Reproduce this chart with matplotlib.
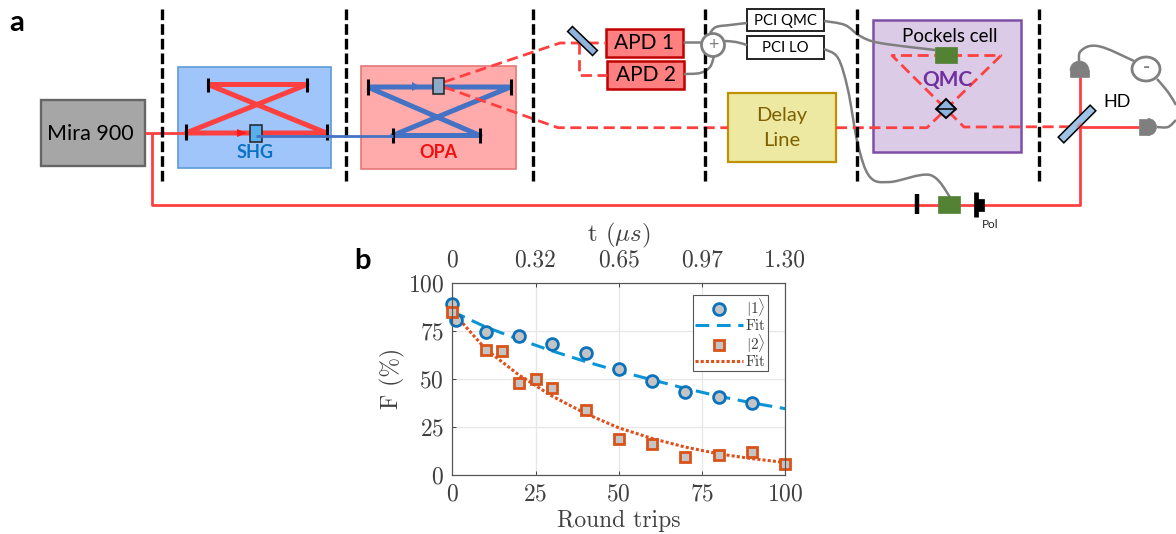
import numpy as np
import matplotlib
matplotlib.use("Agg")
import matplotlib.pyplot as plt
from matplotlib.patches import Rectangle, Circle, Ellipse, Polygon, PathPatch, Wedge
from matplotlib.path import Path

plt.rcParams['mathtext.fontset'] = 'cm'
plt.rcParams['axes.unicode_minus'] = False
plt.rcParams['axes.formatter.use_mathtext'] = True

# data for panel b
trips_1 = [0, 1, 10, 20, 30, 40, 50, 60, 70, 80, 90]
fid_1 = [89, 80.5, 74.5, 72.5, 68, 63.5, 55, 49, 43, 40.5, 37.5]
trips_2 = [0, 10, 15, 20, 25, 30, 40, 50, 60, 70, 80, 90, 100]
fid_2 = [85, 65, 64.5, 48, 50, 45, 34, 18.5, 16, 9.5, 10.5, 12, 5.5]
fit_x = [0, 10, 20, 30, 40, 50, 60, 70, 80, 90, 100]
fit_1 = [85, 77, 70.5, 64.5, 59, 54, 49.5, 45, 41, 37.5, 34.5]
fit_2 = [85, 65.5, 52, 41, 32, 24.5, 19, 14.5, 11, 8.5, 6.5]
x_ticks = [0, 25, 50, 75, 100]
y_ticks = [0, 25, 50, 75, 100]
top_labels = ['0', '0.32', '0.65', '0.97', '1.30']

W, H = 1176, 534
SANS = 'Lato'
RED = '#ff4040'
GRAY = '#7f7f7f'

fig = plt.figure(figsize=(W / 100, H / 100), dpi=100)

# diagram is drawn on a full-figure axes in pixel units
d = fig.add_axes([0, 0, 1, 1])
d.set_xlim(0, W)
d.set_ylim(H, 0)
d.axis('off')


def box(x0, y0, x1, y1, fc, ec, lw=1.5, z=1):
    d.add_patch(Rectangle((x0, y0), x1 - x0, y1 - y0, fc=fc, ec=ec, lw=lw, zorder=z))


def line(xs, ys, color=RED, lw=2, ls='-', z=3):
    d.plot(xs, ys, color=color, lw=lw, ls=ls, zorder=z, solid_capstyle='butt')


def dashed(xs, ys):
    d.plot(xs, ys, color=RED, lw=2, ls=(0, (4, 2)), zorder=3)


def cable(pts, z=2):
    # smooth curve through the points
    p = np.array(pts, dtype=float)
    q = np.vstack([p[0], p, p[-1]])
    verts = [tuple(p[0])]
    codes = [Path.MOVETO]
    for i in range(1, len(q) - 2):
        c1 = q[i] + (q[i + 1] - q[i - 1]) / 6
        c2 = q[i + 1] - (q[i + 2] - q[i]) / 6
        verts += [tuple(c1), tuple(c2), tuple(q[i + 1])]
        codes += [Path.CURVE4] * 3
    d.add_patch(PathPatch(Path(verts, codes), fc='none', ec=GRAY, lw=1.8, zorder=z))


def mirror(x, y0, y1, lw=2.2):
    line([x, x], [y0, y1], color='black', lw=lw, z=5)


def tilted(p0, p1, width, fc, z=6, alpha=1.0):
    p0, p1 = np.array(p0, float), np.array(p1, float)
    u = (p1 - p0) / np.linalg.norm(p1 - p0)
    n = np.array([-u[1], u[0]]) * width / 2
    d.add_patch(Polygon([p0 + n, p1 + n, p1 - n, p0 - n], fc=fc, ec='black', lw=1.1, zorder=z, alpha=alpha))


def label(x, y, s, size=14, color='black', weight='normal'):
    d.text(x, y, s, fontsize=size, color=color, fontweight=weight, family=SANS,
           ha='center', va='center', zorder=8)


# panel letters
label(17, 23, 'a', 21, weight='bold')
label(362, 261, 'b', 21, weight='bold')

# separators
for x in [162, 346, 532.5, 705, 857, 1039]:
    d.plot([x, x], [9, 183], color='black', lw=2.4, ls=(0, (3.2, 1.2)), zorder=4)

# laser
box(41, 100, 145, 166, '#a6a6a6', '#666666', 1.7)
label(90, 134, 'Mira 900', 15.5)

# main beam
line([145, 186], [133, 133])
line([152, 152, 1080, 1080], [133, 204.5, 204.5, 77], lw=2)

# SHG
box(178, 67, 331, 168, '#9fc5fb', '#5b9bd5', 1.2)
line([208, 307, 186, 326.5, 208], [84.5, 84.5, 133, 133, 84.5], lw=3.6)
mirror(208, 78, 92)
mirror(307, 78, 92)
mirror(186, 124, 140)
mirror(326.5, 124, 140)
d.add_patch(Polygon([[237, 129], [237, 137], [247, 133]], fc='#ff1a1a', ec='none', zorder=5))
box(250, 124.5, 262, 141.5, '#58b0ee', '#222222', 1.1, 6)
line([256, 392.5], [136, 136], color='#4472c4', lw=2, z=7)
label(255, 153, 'SHG', 13, '#0b72c4', 'bold')

# OPA
box(361, 66, 515.5, 169, '#ffabab', '#e57878', 1.2)
line([367.5, 510.5, 392.5, 480, 367.5], [87, 87, 135.5, 135.5, 87], color='#4472c4', lw=3.6)
mirror(367.5, 79, 95)
mirror(510.5, 79, 95)
mirror(392.5, 128, 143)
mirror(480, 128, 143)
d.add_patch(Polygon([[412, 82], [412, 91], [420, 86.5]], fc='#4472c4', ec='none', zorder=5))
box(433, 77.5, 444, 94, '#8ea9c9', '#222222', 1.1, 6)
label(438, 152, 'OPA', 13, '#f01010', 'bold')

# squeezed beams
dashed([444, 560, 606], [82, 43, 43])
dashed([444, 558, 728], [87, 127.7, 127.7])
dashed([579, 579, 607], [43, 75, 75])
tilted((570, 29), (595, 53), 7, '#8fb3dc')

# detectors
box(606, 29, 683, 57, '#ff8080', '#c00000', 1.8)
box(607, 61, 684, 89, '#ff8080', '#c00000', 1.8)
label(644.5, 43, 'APD 1', 15)
label(645.5, 75, 'APD 2', 15)
line([683, 702], [42, 42], color=GRAY, lw=1.8)
cable([(684, 74), (700, 73), (710, 67), (714, 56)])
d.add_patch(Circle((713, 45), 11.5, fc='white', ec=GRAY, lw=2, zorder=5))
label(713, 44.5, '+', 13, GRAY)
cable([(710, 33), (716, 27), (730, 25), (747, 23)])
cable([(725, 41), (736, 42), (747, 45)])
box(747, 9, 824, 31, 'white', '#222222', 1.4)
box(747, 36, 824, 59, 'white', '#222222', 1.4)
label(785.5, 21, 'PCI QMC', 10.7)
label(785.5, 47.5, 'PCI LO', 10.7)

# delay line
box(728, 93, 836, 162, '#ede9a3', '#bf9000', 1.6)
label(782, 116, 'Delay', 14.5, '#7f6000')
label(782, 140, 'Line', 14.5, '#7f6000')

# QMC
box(873, 20, 1021, 152, '#dccbe6', '#7f4fa8', 1.8)
dashed([836, 927, 1001, 892, 964, 1080], [127.7, 127.7, 55.5, 55.5, 127, 126.7])
line([1080, 1139], [126.7, 126.7], lw=2)
label(950, 37, 'Pockels cell', 13.5)
box(935, 47, 957, 63, '#548235', '#548235', 0.5, 5)
label(947, 80, 'QMC', 15, '#7030a0', 'bold')
d.add_patch(Polygon([[946, 99], [956, 109], [946, 118], [936, 109]], fc='#8fb4e0', ec='black', lw=1.4, zorder=6))
line([936, 956], [109, 109], color='black', lw=1.1, z=7)

# cables to the cavity and the LO modulator
cable([(824, 21), (845, 25), (860, 36), (880, 43), (935, 50)])
cable([(824, 49), (838, 58), (848, 90), (858, 145), (870, 177), (890, 182), (930, 175), (950, 197)])

# local oscillator optics
line([917, 917], [194, 214], color='black', lw=3.2, z=5)
box(938, 196, 960, 213, '#548235', '#548235', 0.5, 5)
line([976, 976], [192, 217], color='black', lw=3.4, z=5)
box(976, 199, 984, 211, 'black', 'black', 0.5, 5)
label(990, 224, 'Pol', 8.5, '#222222')

# homodyne
tilted((1061, 140), (1093, 108), 8, '#9dc3e6')
d.add_patch(Polygon([[1076, 126], [1080, 122], [1084, 126], [1080, 130]], fc=RED, ec='none', alpha=0.3, zorder=7))
label(1117, 102, 'HD', 13)
d.add_patch(Wedge((1079.5, 70.5), 9.5, 180, 360, fc=GRAY, ec=GRAY, lw=0.5, zorder=5))
box(1070, 70, 1089, 77, GRAY, GRAY, 0.5, 5)
d.add_patch(Wedge((1148, 127), 8.5, 270, 90, fc=GRAY, ec=GRAY, lw=0.5, zorder=5))
box(1139, 119, 1148, 135, GRAY, GRAY, 0.5, 5)
cable([(1079, 61), (1080, 52), (1090, 46), (1105, 48), (1134, 61)])
d.add_patch(Ellipse((1146, 69), 28, 24, fc='white', ec=GRAY, lw=2, zorder=5))
label(1146, 68, '-', 14, GRAY, 'bold')
cable([(1157, 79), (1168, 92), (1176, 105)])
cable([(1157, 127), (1168, 127), (1176, 120)])

# panel b, MATLAB style
INK = '#404040'
serif = {'family': 'cmr10', 'color': INK}
ax = fig.add_axes([452.3 / W, 1 - 475 / H, 333 / W, 192.3 / H])
ax.patch.set_alpha(0)
ax.plot(fit_x, fit_1, color='#0a96d6', lw=2.2, ls=(0, (4.5, 2.5)), label='Fit', zorder=3, clip_on=False)
ax.plot(fit_x, fit_2, color='#e0501c', lw=2.2, ls=(0, (1, 0.7)), label='Fit', zorder=3, clip_on=False)
c1, = ax.plot(trips_1, fid_1, 'o', ms=8.5, mfc='#c4c4c4', mec='#0b72bd', mew=2, clip_on=False, zorder=4)
c2, = ax.plot(trips_2, fid_2, 's', ms=6.5, mfc='#c4c4c4', mec='#d95319', mew=2, clip_on=False, zorder=5)
ax.set_xlim(0, 100)
ax.set_ylim(0, 100)
ax.set_xticks(x_ticks)
ax.set_yticks(y_ticks)
ax.grid(color='#e6e6e6', lw=0.9)
ax.set_axisbelow(True)
ax.tick_params(direction='in', length=3, width=0.7, color=INK, pad=6)
for t in ax.get_xticklabels() + ax.get_yticklabels():
    t.set_fontfamily('cmr10')
    t.set_fontsize(17)
    t.set_color(INK)
ax.set_xlabel('Round trips', fontsize=17, labelpad=3, **serif)
ax.set_ylabel('F (%)', fontsize=17, labelpad=2, **serif)
for s in ax.spines.values():
    s.set_color('#555555')
    s.set_linewidth(0.8)

top = ax.twiny()
top.set_xlim(0, 100)
top.set_xticks(x_ticks)
top.set_xticklabels(top_labels, fontsize=17, fontfamily='cmr10', color=INK)
top.tick_params(direction='in', length=3, width=0.7, color=INK, pad=8)
top.set_xlabel(r't ($\mu s$)', fontsize=18, labelpad=6, **serif)
for s in top.spines.values():
    s.set_color('#555555')
    s.set_linewidth(0.8)

handles = [c1, ax.lines[0], c2, ax.lines[1]]
names = [r'$|1\rangle$', 'Fit', r'$|2\rangle$', 'Fit']
leg = top.legend(handles, names, loc='upper left', bbox_to_anchor=((693 - 452.3) / 333, 1 - (295 - 282.7) / 192.3),
                 frameon=True, fancybox=False, framealpha=1, edgecolor='#555555',
                 prop={'family': 'cmr10', 'size': 11}, borderpad=0.15, labelspacing=0.0,
                 handlelength=3.1, handletextpad=0.2, borderaxespad=0)
leg.get_frame().set_linewidth(0.8)
for t in leg.get_texts():
    t.set_color(INK)

fig.savefig('out.png', dpi=100)
